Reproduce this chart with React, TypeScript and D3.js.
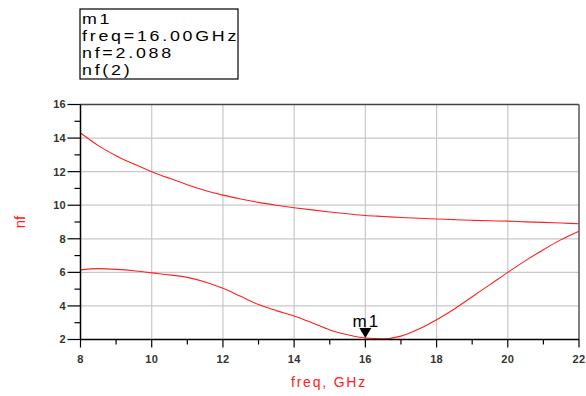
import React from "react";
import * as d3 from "d3";

const freqs = [8, 8.5, 9, 9.5, 10, 10.5, 11, 11.5, 12, 12.5, 13, 13.5, 14, 14.5, 15, 15.5, 16, 16.5, 17, 17.5, 18, 18.5, 19, 19.5, 20, 20.5, 21, 21.5, 22];
const nfUpper = [14.3, 13.55, 12.95, 12.45, 12.0, 11.6, 11.22, 10.88, 10.6, 10.37, 10.17, 10.0, 9.85, 9.72, 9.6, 9.49, 9.39, 9.33, 9.27, 9.22, 9.18, 9.14, 9.1, 9.07, 9.05, 9.01, 8.98, 8.94, 8.9];
const nfLower = [6.15, 6.22, 6.18, 6.1, 5.97, 5.85, 5.7, 5.43, 5.05, 4.57, 4.08, 3.72, 3.4, 3.0, 2.57, 2.28, 2.088, 2.04, 2.2, 2.62, 3.18, 3.82, 4.55, 5.27, 6.0, 6.7, 7.35, 7.95, 8.45];
const xTicks = [8, 10, 12, 14, 16, 18, 20, 22];
const xMinor = [9, 11, 13, 15, 17, 19, 21];
const yTicks = [2, 4, 6, 8, 10, 12, 14, 16];
const yMinor = [3, 5, 7, 9, 11, 13, 15];
const markerFreq = 16;
const markerNf = 2.088;
const markerLines = ["m1", "freq=16.00GHz", "nf=2.088", "nf(2)"];

export default function App() {
  const W = 586, H = 396;
  const x = d3.scaleLinear().domain([8, 22]).range([80.5, 579]);
  const y = d3.scaleLinear().domain([2, 16]).range([339.5, 104.5]);
  const line = d3.line<number>().x((_, i) => x(freqs[i])).y((d) => y(d)).curve(d3.curveMonotoneX);
  const font = "Liberation Sans, Arial, sans-serif";
  const mx = x(markerFreq), my = y(markerNf);
  return (
    <svg width={W} height={H} style={{ position: "absolute", left: 0, top: 0 }} fontFamily={font}>
      <rect width={W} height={H} fill="#fff" />
      {xTicks.slice(1, -1).map((t) => (
        <line key={"gx" + t} x1={x(t)} x2={x(t)} y1={y(16)} y2={y(2)} stroke="#c8c8c8" strokeWidth={1.2} />
      ))}
      {yTicks.slice(1, -1).map((t) => (
        <line key={"gy" + t} x1={x(8)} x2={x(22)} y1={y(t)} y2={y(t)} stroke="#c8c8c8" strokeWidth={1.2} />
      ))}
      <path d={line(nfUpper) || ""} fill="none" stroke="#ff2020" strokeWidth={1.1} />
      <path d={line(nfLower) || ""} fill="none" stroke="#ff2020" strokeWidth={1.1} />
      <line x1={x(8)} x2={x(22)} y1={y(16)} y2={y(16)} stroke="#444" strokeWidth={1.5} />
      <line x1={x(22)} x2={x(22)} y1={y(16)} y2={y(2)} stroke="#555" strokeWidth={1.5} />
      <line x1={x(8)} x2={x(8)} y1={y(16)} y2={y(2)} stroke="#000" strokeWidth={1.5} />
      <line x1={x(8)} x2={x(22)} y1={y(2)} y2={y(2)} stroke="#000" strokeWidth={1.5} />
      {yTicks.map((t) => (
        <g key={"yt" + t}>
          <line x1={x(8) - 13} x2={x(8)} y1={y(t)} y2={y(t)} stroke="#000" strokeWidth={1.2} />
          <text x={66} y={y(t)} dy="0.36em" textAnchor="end" fontSize={11} fontWeight="bold" fill="#333" letterSpacing={0.3}>{t}</text>
        </g>
      ))}
      {yMinor.map((t) => (
        <line key={"ym" + t} x1={x(8) - 6} x2={x(8)} y1={y(t)} y2={y(t)} stroke="#000" strokeWidth={1.2} />
      ))}
      {xTicks.map((t) => (
        <g key={"xt" + t}>
          <line x1={x(t)} x2={x(t)} y1={y(2)} y2={y(2) + 8} stroke="#000" strokeWidth={1.2} />
          <text x={x(t)} y={363} textAnchor="middle" fontSize={11} fontWeight="bold" fill="#333" letterSpacing={0.3}>{t}</text>
        </g>
      ))}
      {xMinor.map((t) => (
        <line key={"xm" + t} x1={x(t)} x2={x(t)} y1={y(2)} y2={y(2) + 5} stroke="#000" strokeWidth={1.2} />
      ))}
      <text x={329} y={387} textAnchor="middle" fontSize={14} letterSpacing={1.8} fill="#ff2020">freq, GHz</text>
      <text transform="translate(25,222) rotate(-90)" textAnchor="middle" fontSize={15} fill="#ff2020">nf</text>
      <path d={`M${mx - 6},${my - 10} L${mx + 6},${my - 10} L${mx},${my} Z`} fill="#000" />
      <text x={mx + 1} y={327} textAnchor="middle" fontSize={17} letterSpacing={2} fill="#000">m1</text>
      <rect x={80} y={9} width={158} height={70} fill="#fff" stroke="#000" strokeWidth={1.2} />
      {markerLines.map((s, i) => (
        <text key={s} transform={`translate(82,${24 + i * 17}) scale(1.15,1)`} fontSize={15.5} letterSpacing={2.4} fill="#000">{s}</text>
      ))}
    </svg>
  );
}
